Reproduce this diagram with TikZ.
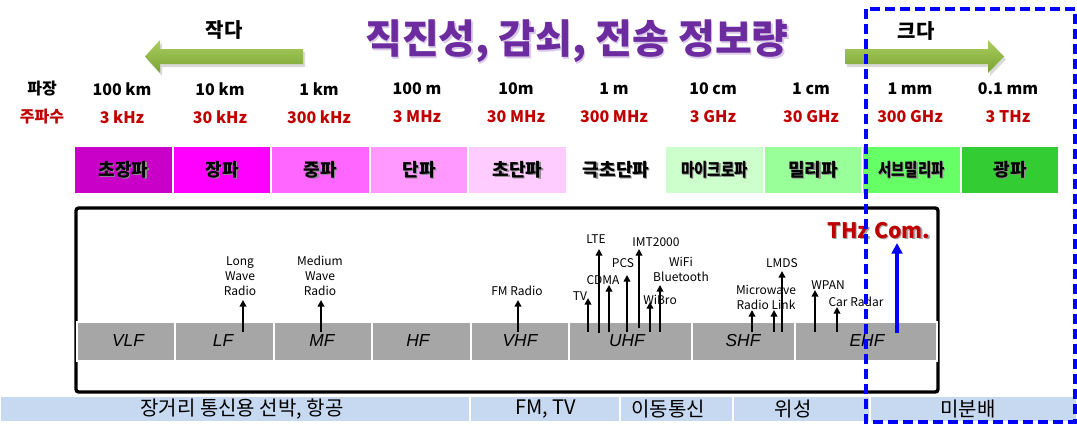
\documentclass[tikz,border=0pt]{standalone}
\usepackage{graphicx}
\usepackage{fontspec}
\setmainfont{Noto Sans CJK KR}
\newfontfamily\arialf{Liberation Sans}
\usetikzlibrary{arrows.meta}
\definecolor{myred}{RGB}{192,0,0}
\definecolor{mypurple}{RGB}{108,44,160}
\definecolor{c1}{RGB}{200,0,200}
\definecolor{c2}{RGB}{255,0,255}
\definecolor{c3}{RGB}{255,102,255}
\definecolor{c4}{RGB}{255,153,255}
\definecolor{c5}{RGB}{255,204,255}
\definecolor{c6}{RGB}{255,255,255}
\definecolor{c7}{RGB}{204,255,204}
\definecolor{c8}{RGB}{153,255,153}
\definecolor{c9}{RGB}{102,255,102}
\definecolor{c10}{RGB}{51,204,51}
\definecolor{grayband}{RGB}{166,166,166}
\definecolor{lightblue}{RGB}{198,217,241}
\definecolor{gtop}{RGB}{172,206,96}
\definecolor{gbot}{RGB}{120,163,52}
\newcommand\shtxt[2][black!45]{\leavevmode\rlap{\kern1pt\raisebox{-1pt}{\textcolor{#1}{#2}}}#2}
\tikzset{
  wl/.style={font=\fontsize{12}{14}\selectfont\bfseries, inner sep=0pt},
  fq/.style={wl, text=myred},
  bandtxt/.style={font=\fontsize{13.5}{15}\selectfont\bfseries, inner sep=0pt},
  gl/.style={font=\arialf\itshape\fontsize{13}{15}\selectfont, inner sep=0pt},
  sm/.style={font=\fontsize{9}{11.25}\selectfont, inner sep=0pt, align=center},
  app/.style={draw=black, line width=2pt, -{Triangle[length=5pt,width=5pt]}},
  thzarrow/.style={draw=blue, line width=3pt, -{Triangle[length=8pt,width=8pt]}},
  bt/.style={font=\fontsize{15}{18}\selectfont, inner sep=0pt},
  hint/.style={font=\fontsize{15}{18}\selectfont\bfseries, inner sep=0pt},
}
\begin{document}
\begin{tikzpicture}[x=0.75pt,y=-0.75pt]
\useasboundingbox (0,0) rectangle (1077,425);

% green arrows
\fill[black!15] (305,52) -- (162,52) -- (162,43) -- (147,59.5) -- (162,76) -- (162,67) -- (305,67) -- cycle;
\shade[top color=gtop, bottom color=gbot] (303,49) -- (160,49) -- (160,40) -- (145,56.5) -- (160,73) -- (160,64) -- (303,64) -- cycle;
\fill[black!15] (847,52) -- (990,52) -- (990,43) -- (1006,59.5) -- (990,76) -- (990,67) -- (847,67) -- cycle;
\shade[top color=gtop, bottom color=gbot] (845,49) -- (988,49) -- (988,40) -- (1004,56.5) -- (988,73) -- (988,64) -- (845,64) -- cycle;
\node[hint] (small) at (224,30) {작다};
\node[hint] (big) at (916,31) {크다};

% title
\node[font=\fontsize{30}{36}\selectfont\bfseries, text=mypurple, inner sep=0pt] (title) at (577,42) {\shtxt[mypurple!25]{직진성, 감쇠, 전송 정보량}};

% rows
\node[wl] (wlh) at (42,89) {파장};
\node[fq] (fqh) at (42,117) {주파수};
\foreach \x/\w/\f [count=\i] in {122/100 km/3 kHz, 220/10 km/30 kHz, 319/1 km/300 kHz, 417/100 m/3 MHz, 516/10m/30 MHz, 614/1 m/300 MHz, 713/10 cm/3 GHz, 811/1 cm/30 GHz, 910/1 mm/300 GHz, 1008/0.1 mm/3 THz}{
  \node[wl] (w\i) at (\x,89) {\w};
  \node[fq] (f\i) at (\x,117) {\f};
}

% colour band
\foreach \xa/\xb/\col/\t [count=\i] in {74/173/c1/초장파, 173/271/c2/장파, 271/370/c3/중파, 370/468/c4/단파, 468/567/c5/초단파, 567/665/c6/극초단파, 665/764/c7/{\scalebox{0.8}[1]{마이크로파}}, 764/862/c8/밀리파, 862/961/c9/{\scalebox{0.8}[1]{서브밀리파}}, 961/1059/c10/광파}{
  \fill[\col, draw=white, line width=1pt] (\xa,146) rectangle (\xb,194);
  \node[bandtxt] (band\i) at ({(\xa+\xb)/2},170) {\shtxt{\t}};
}

% bottom band
\foreach \xa/\xb/\t/\tx [count=\i] in {0/470/{장거리 통신용 선박, 항공}/242, 470/620/{FM, TV}/546, 620/733/이동통신/668, 733/870/위성/793, 870/1077/미분배/968}{
  \fill[lightblue, draw=white, line width=1.2pt] (\xa,396) rectangle (\xb,422);
  \node[bt] (use\i) at (\tx,409) {\t};
}

% black frame
\draw[line width=2.5pt, rounded corners=2pt] (76,208) rectangle (938,392);

% gray band
\foreach \xa/\xb/\t/\tx [count=\i] in {77/175/VLF/128, 175/274/LF/223, 274/372/MF/322, 372/471/HF/418, 471/569/VHF/520, 569/692/UHF/627, 692/795/SHF/743, 795/937/EHF/867}{
  \fill[grayband, draw=white, line width=1.2pt] (\xa,322) rectangle (\xb,361);
  \node[gl] (g\i) at (\tx,341) {\t};
}

% application labels
\node[sm] (lwr) at (240,276) {Long\\Wave\\Radio};
\node[sm] (mwr) at (320,276) {Medium\\Wave\\Radio};
\node[sm] (fmr) at (517,291) {FM Radio};
\node[sm] (tv) at (580,296) {TV};
\node[sm] (lte) at (596,239) {LTE};
\node[sm] (cdma) at (603,280) {CDMA};
\node[sm] (pcs) at (623,263) {PCS};
\node[sm] (imt) at (656,242) {IMT2000};
\node[sm] (wibro) at (660,300) {WiBro};
\node[sm] (wifi) at (681,269.5) {WiFi\\Bluetooth};
\node[sm] (mrl) at (766,297.5) {Microwave\\Radio Link};
\node[sm] (lmds) at (782,263) {LMDS};
\node[sm] (wpan) at (828,285) {WPAN};
\node[sm] (car) at (856,302) {Car Radar};
\node[font=\fontsize{16}{18}\selectfont\bfseries, text=myred, inner sep=0pt] (thz) at (879,231) {\shtxt[black!35]{THz Com.}};

% arrows
\foreach \n/\x/\ya/\yb in {lwr/243/332/300, mwr/321/332/300, fmr/518/332/300, tv/588/332/298, lte/599/333/249, cdma/609/332/285, pcs/627/332/275, imt/639/328/249, wibro/650/332/302, wifi/660/332/285, mrla/752/332/310, mrlb/774/332/310, lmds/782/332/271, wpan/815/332/290, car/837/332/307}{
  \coordinate (\n-s) at (\x,\ya);
  \coordinate (\n-e) at (\x,\yb);
  \draw[app] (\n-s) -- (\n-e);
}
\coordinate (thz-s) at (897,333);
\coordinate (thz-e) at (897,243);
\draw[thzarrow] (thz-s) -- (thz-e);

% blue dashed box
\draw[blue, line width=2.3pt, dash pattern=on 7.5pt off 3.75pt] (866,9) rectangle (1075,422);
\end{tikzpicture}
\end{document}
